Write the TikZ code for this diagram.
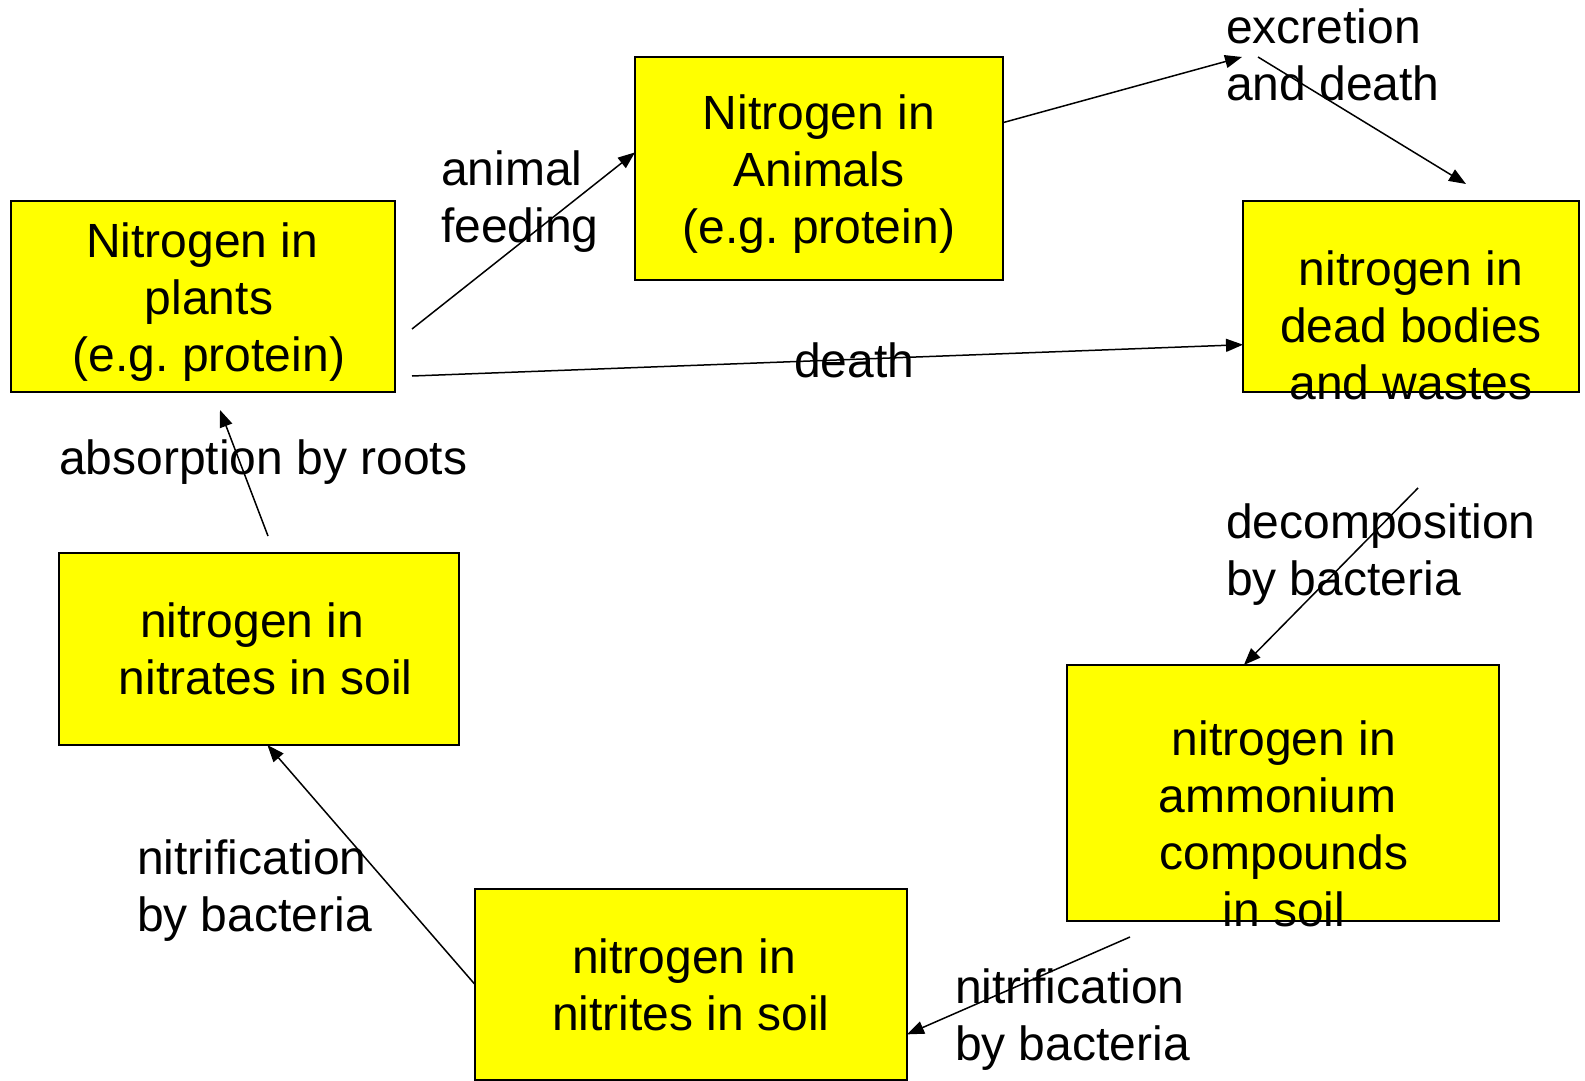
\documentclass[tikz,border=0pt]{standalone}
\usepackage{fontspec}
\setmainfont{Liberation Sans}
\usetikzlibrary{arrows.meta}
\definecolor{boxyellow}{RGB}{255,255,0}
\frenchspacing
\begin{document}
\begin{tikzpicture}[x=1pt,y=-1pt,
  box/.style={draw=black, fill=boxyellow, line width=2pt, inner sep=0pt, outer sep=0pt},
  txt/.style={font=\fontsize{48}{57}\selectfont\frenchspacing, inner sep=0pt, outer sep=0pt, anchor=north, align=center},
  lbl/.style={font=\fontsize{48}{57}\selectfont\frenchspacing, inner sep=0pt, outer sep=0pt, anchor=north west, align=left},
  arr/.style={line width=1.5pt, -{Triangle[length=17pt,width=13pt]}},
  ln/.style={line width=1.5pt}]
\useasboundingbox[fill=white] (0,0) rectangle (1585,1081);
% boxes
\node[box, minimum width=384pt, minimum height=191pt] (plants) at (203,296.5) {};
\node[box, minimum width=368pt, minimum height=223pt] (animals) at (819,168.5) {};
\node[box, minimum width=336pt, minimum height=191pt] (dead) at (1411,296.5) {};
\node[box, minimum width=432pt, minimum height=256pt] (amm) at (1283,793) {};
\node[box, minimum width=432pt, minimum height=191pt] (nitrites) at (691,984.5) {};
\node[box, minimum width=400pt, minimum height=192pt] (nitrates) at (259,649) {};
% box texts
\node[txt] (plantsT) at (209,217.1) {\strut Nitrogen in\kern.278em\\\strut plants\\\strut (e.g. protein)};
\node[txt] (animalsT) at (819,89.1) {\strut Nitrogen in\\\strut Animals\\\strut (e.g. protein)};
\node[txt] (deadT) at (1411,245.1) {\strut nitrogen in\\\strut dead bodies\\\strut and wastes};
\node[txt] (ammT) at (1284,715.1) {\strut nitrogen in\\\strut ammonium\kern.278em\\\strut compounds\\\strut in soil};
\node[txt] (nitritesT) at (691,933.1) {\strut nitrogen in\kern.278em\\\strut nitrites in soil};
\node[txt] (nitratesT) at (259,597.1) {\strut nitrogen in\kern.278em\\\strut\kern.278em nitrates in soil};
% labels
\node[lbl] (feedL) at (441,145.1) {\strut animal\\\strut feeding};
\node[lbl] (excL) at (1226,3.1) {\strut excretion\\\strut and death};
\node[lbl] (deathL) at (794,337.1) {\strut death};
\node[lbl] (absL) at (59,434.1) {\strut absorption by roots};
\node[lbl] (decL) at (1226,498.1) {\strut decomposition\\\strut by bacteria};
\node[lbl] (nitrL1) at (137,834.1) {\strut nitrification\\\strut by bacteria};
\node[lbl] (nitrL2) at (955,963.1) {\strut nitrification\\\strut by bacteria};
% free ends
\coordinate (feedS) at (412,329);
\coordinate (deathS) at (412,376);
\coordinate (excT) at (1242,57);
\coordinate (excS) at (1258,57);
\coordinate (excE) at (1466,184);
\coordinate (decS) at (1418,488);
\coordinate (ammS) at (1130,937);
\coordinate (absS) at (268,536);
\coordinate (absT) at (220,410);
% connectors
\draw[arr] (feedS) -- (animals.175.18);
\draw[arr] (deathS) -- (dead.196.1);
\draw[arr] (animals.14.77) -- (excT);
\draw[arr] (excS) -- (excE);
\draw[arr] (decS) -- (amm.107.1);
\draw[arr] (ammS) -- (nitrites.347.6);
\draw[arr] (nitrites.west) -- (nitrates.275.4);
\draw[arr] (absS) -- (absT);
\end{tikzpicture}
\end{document}
